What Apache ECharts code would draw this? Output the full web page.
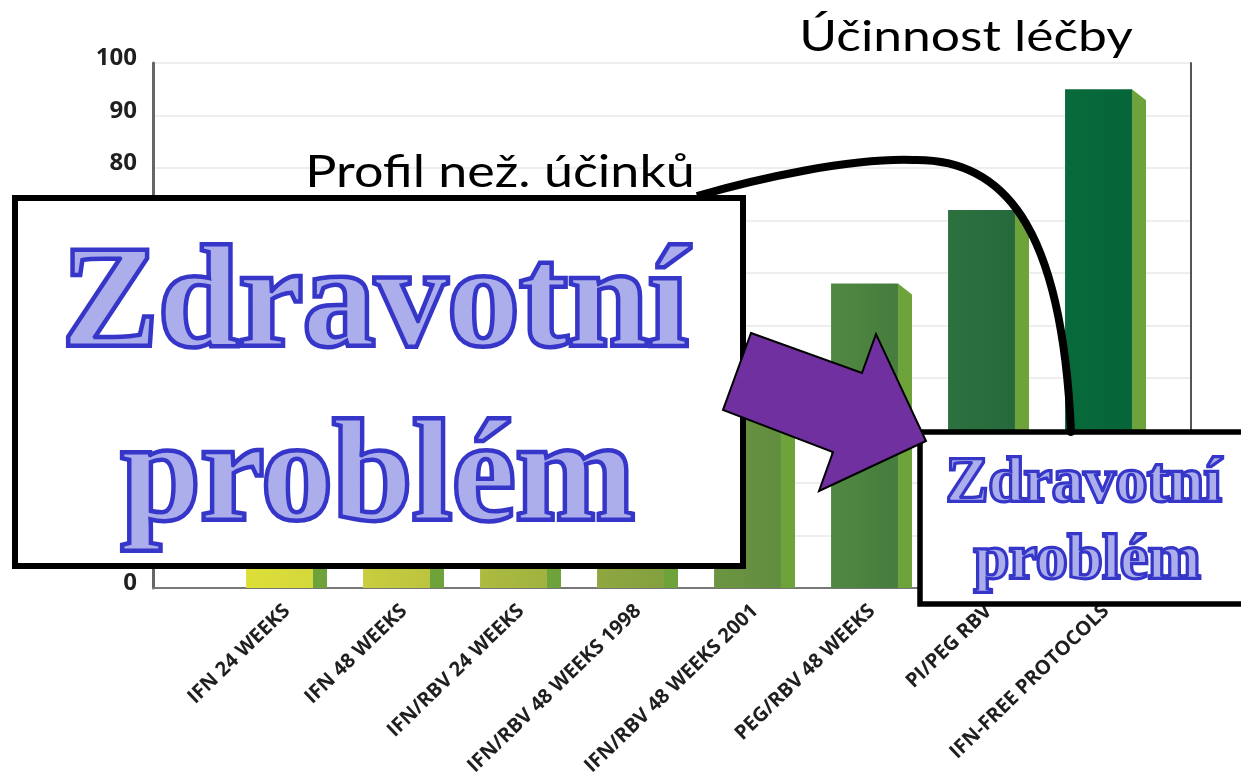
<!DOCTYPE html>
<html><head><meta charset="utf-8">
<script src="https://cdn.jsdelivr.net/npm/echarts@6/dist/echarts.min.js"></script>
<style>html,body{margin:0;padding:0;background:#fff}#c{width:1241px;height:783px}</style>
</head><body><div id="c"></div>
<script>
// ---- data ----
const categories = ['IFN 24 WEEKS','IFN 48 WEEKS','IFN/RBV 24 WEEKS','IFN/RBV 48 WEEKS 1998','IFN/RBV 48 WEEKS 2001','PEG/RBV 48 WEEKS','PI/PEG RBV','IFN-FREE PROTOCOLS'];
const efficacy = [6, 16, 34, 42, 39, 58, 72, 95];
const yMin = 0, yMax = 100, yStep = 10;
const titleText = 'Účinnost léčby';
const sideEffectText = 'Profil než. účinků';
const bigLines = ['Zdravotní', 'problém'];
const smallLines = ['Zdravotní', 'problém'];

// ---- styles ----
const frontColors = [['#dddf37','#d4d83b'],['#c9cd3e','#bcc43f'],['#adbb40','#a0b23f'],['#8fa740','#83a03f'],
  ['#6c9442','#628d3f'],['#508943','#467c3d'],['#2d7140','#266a3c'],['#086a3b','#066539']];
const sideColor = '#6ea23a';

const ctx = document.createElement('canvas').getContext('2d');
function fit(str, family, weight, capH, left, right, baseline, fsFixed) {
  ctx.textBaseline = 'alphabetic';
  ctx.font = weight + ' 100px ' + family;
  const cap100 = ctx.measureText('H').actualBoundingBoxAscent;
  const fs = fsFixed || capH / cap100 * 100;
  ctx.font = weight + ' ' + fs + 'px ' + family;
  const m = ctx.measureText(str);
  const ink = m.actualBoundingBoxRight + m.actualBoundingBoxLeft;
  const sx = (right - left) / ink;
  ctx.textBaseline = 'middle';
  const d = ctx.measureText('H').actualBoundingBoxDescent;
  return { fs: fs, sx: sx, x: left + m.actualBoundingBoxLeft * sx, y: baseline - d };
}
function textEl(str, f, family, weight, z, style) {
  return Object.assign({ type: 'text', z: z, x: f.x, y: f.y, scaleX: f.sx,
    style: Object.assign({ text: str, x: 0, y: 0, fontSize: f.fs, fontFamily: family, fontWeight: weight,
      align: 'left', verticalAlign: 'middle', textAlign: 'left', textVerticalAlign: 'middle' }, style) });
}
function outlined(str, f, family, z, outerW, innerW) {
  return [
    textEl(str, f, family, 'bold', z, { fill: '#abaeeb', stroke: '#3636c9', lineWidth: outerW }),
    textEl(str, f, family, 'bold', z + 1, { fill: 'none', stroke: '#3636c9', lineWidth: innerW })
  ];
}

const serif = 'Liberation Serif';
const serifCss = "'Liberation Serif'";
const b1 = fit(bigLines[0], serifCss, 'bold', 94, 68, 690, 345);
const b2 = fit(bigLines[1], serifCss, 'bold', 0, 122, 632, 519, b1.fs);
const s1 = fit(smallLines[0], serifCss, 'bold', 41, 949, 1223, 501);
const s2 = fit(smallLines[1], serifCss, 'bold', 0, 974, 1200, 578, s1.fs);
const t1 = fit(titleText, 'Lato', 'normal', 31, 803, 1133, 51);
const t2 = fit(sideEffectText, 'Lato', 'normal', 32, 310, 692, 187);

const graphics = [
  { type: 'rect', z: 100, shape: { x: 15, y: 198, width: 728, height: 368 }, style: { fill: '#fff', stroke: '#000', lineWidth: 6 } },
  ...outlined(bigLines[0], b1, serif, 101, 6, 3),
  ...outlined(bigLines[1], b2, serif, 101, 6, 3),
  { type: 'rect', z: 110, shape: { x: 920, y: 432, width: 400, height: 172 }, style: { fill: '#fff', stroke: '#000', lineWidth: 5.5 } },
  ...outlined(smallLines[0], s1, serif, 111, 4, 2.5),
  ...outlined(smallLines[1], s2, serif, 111, 4, 2.5),
  { type: 'polygon', z: 120, shape: { points: [[751,333],[862,373],[876,334],[926,441],[819,491],[833,452],[723,410]] },
    style: { fill: '#7030a0', stroke: '#000', lineWidth: 2 } },
  { type: 'bezierCurve', z: 121, shape: { x1: 697, y1: 196, cpx1: 760, cpy1: 178, cpx2: 850, cpy2: 158, x2: 913, y2: 160 },
    style: { fill: 'none', stroke: '#000', lineWidth: 8 } },
  { type: 'bezierCurve', z: 121, shape: { x1: 913, y1: 160, cpx1: 1000, cpy1: 158, cpx2: 1062, cpy2: 220, x2: 1071, y2: 432 },
    style: { fill: 'none', stroke: '#000', lineWidth: 8, lineCap: 'round' } },
  textEl(titleText, t1, 'Lato', 'normal', 130, { fill: '#000' }),
  textEl(sideEffectText, t2, 'Lato', 'normal', 130, { fill: '#000' })
];

const chart = echarts.init(document.getElementById('c'), null, { renderer: 'canvas' });
chart.setOption({
  animation: false,
  backgroundColor: '#fff',
  grid: [
    { left: 153, right: 50, top: 63, bottom: 195 },
    { left: 228.5, right: 76.5, top: 63, bottom: 195 }
  ],
  xAxis: [
    { gridIndex: 0, type: 'value', min: 0, max: 1, axisLine: { show: true, lineStyle: { color: '#777', width: 2 } },
      axisTick: { show: false }, axisLabel: { show: false }, splitLine: { show: false } },
    { gridIndex: 1, type: 'category', data: categories, axisLine: { show: false }, axisTick: { show: false },
      axisLabel: { interval: 0, rotate: 44, margin: 20, color: '#1f1f1f', fontFamily: 'Open Sans', fontWeight: 'bold', fontSize: 20 } }
  ],
  yAxis: [
    { gridIndex: 0, type: 'value', min: yMin, max: yMax, interval: yStep,
      axisLine: { show: true, lineStyle: { color: '#666', width: 3 } }, axisTick: { show: false },
      axisLabel: { margin: 16, color: '#1f1f1f', fontFamily: 'Open Sans', fontWeight: 'bold', fontSize: 24, verticalAlign: 'bottom', lineHeight: 9 },
      splitLine: { show: true, lineStyle: { color: '#eeeeee', width: 2 } } },
    { gridIndex: 0, type: 'value', position: 'right', min: yMin, max: yMax, interval: yStep,
      axisLine: { show: true, lineStyle: { color: '#555', width: 2 } }, axisTick: { show: false },
      axisLabel: { show: false }, splitLine: { show: false } },
    { gridIndex: 1, type: 'value', min: yMin, max: yMax, interval: yStep, show: false }
  ],
  series: [{
    type: 'custom', xAxisIndex: 1, yAxisIndex: 2,
    data: efficacy.map((v, i) => [i, v]),
    renderItem: function (params, api) {
      const i = api.value(0), v = api.value(1);
      const top = api.coord([i, v]);
      const base = api.coord([i, 0]);
      const w = api.size([1, 0])[0];
      const cx = top[0];
      const fl = cx - 0.35 * w, fr = cx + 0.222 * w, sr = cx + 0.342 * w;
      const bev = 0.094 * w;
      const c = frontColors[i];
      return { type: 'group', children: [
        { type: 'rect', shape: { x: fl, y: top[1], width: fr - fl, height: base[1] - top[1] },
          style: { fill: new echarts.graphic.LinearGradient(0, 0, 1, 0, [{ offset: 0, color: c[0] }, { offset: 1, color: c[1] }]) } },
        { type: 'polygon', shape: { points: [[fr, top[1]], [sr, top[1] + bev], [sr, base[1]], [fr, base[1]]] },
          style: { fill: sideColor } }
      ] };
    }
  }],
  graphic: { elements: graphics }
});
</script></body></html>
